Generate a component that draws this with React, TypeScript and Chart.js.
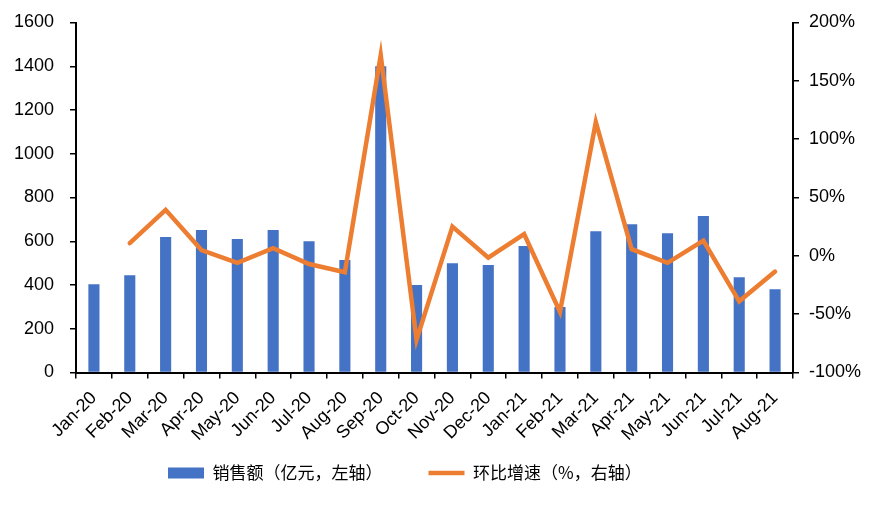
import { useEffect, useRef } from 'react'
import { Chart, registerables } from 'chart.js'

Chart.register(...registerables)

// months on the x axis
const months = [
  'Jan-20', 'Feb-20', 'Mar-20', 'Apr-20', 'May-20', 'Jun-20', 'Jul-20', 'Aug-20', 'Sep-20', 'Oct-20',
  'Nov-20', 'Dec-20', 'Jan-21', 'Feb-21', 'Mar-21', 'Apr-21', 'May-21', 'Jun-21', 'Jul-21', 'Aug-21',
]
// 销售额（亿元）
const sales = [404, 445, 619, 651, 610, 651, 600, 514, 1400, 400, 500, 491, 578, 299, 646, 678, 637, 715, 436, 381]
// 环比增速（%）
const momGrowth = [null, 10.9, 39.4, 5, -6, 6.6, -7, -14, 172, -72, 25, -1.5, 18.6, -48, 114.6, 5.7, -6, 13, -39, -13.5]

const tickFont = { size: 18, family: '"Liberation Sans", Arial, sans-serif' }
const axisColor = '#000000'

// legend padding is used both around and between items; place the box by hand
const legendPlace = {
  id: 'legendPlace',
  afterLayout(chart: any) {
    const l = chart.legend
    if (!l) return
    const pad = l.options.labels.padding
    const h = l.bottom - l.top
    const w = l.right - l.left
    l.left = 168 - pad
    l.right = l.left + w
    l.top = 473 - pad - 8.5
    l.bottom = l.top + h
  },
}

export default function App() {
  const canvasRef = useRef<HTMLCanvasElement>(null)
  const chartRef = useRef<Chart | null>(null)

  useEffect(() => {
    document.body.style.margin = '0'
    if (!canvasRef.current) return
    if (chartRef.current) chartRef.current.destroy()

    chartRef.current = new Chart(canvasRef.current, {
      type: 'bar',
      data: {
        labels: months,
        datasets: [
          {
            type: 'bar',
            label: '销售额（亿元，左轴）',
            data: sales,
            backgroundColor: '#4472C4',
            borderWidth: 0,
            yAxisID: 'y',
            categoryPercentage: 1,
            barPercentage: 0.31,
            pointStyle: 'rect',
            order: 2,
          },
          {
            type: 'line',
            label: '环比增速（%，右轴）',
            data: momGrowth,
            borderColor: '#ED7D31',
            backgroundColor: '#ED7D31',
            borderWidth: 4.5,
            borderJoinStyle: 'miter',
            borderCapStyle: 'round',
            pointRadius: 0,
            tension: 0,
            yAxisID: 'y1',
            pointStyle: 'line',
            order: 1,
          },
        ],
      },
      plugins: [legendPlace],
      options: {
        animation: false,
        responsive: true,
        maintainAspectRatio: false,
        layout: { padding: { top: 22.5, bottom: -20, left: 0, right: 0 } },
        plugins: {
          tooltip: { enabled: false },
          legend: {
            position: 'bottom',
            align: 'start',
            labels: {
              usePointStyle: true,
              pointStyleWidth: 36,
              boxHeight: 11,
              padding: 46,
              color: '#000',
              font: { size: 17, family: '"Noto Sans CJK SC", sans-serif' },
              sort: (a: any, b: any) => a.datasetIndex - b.datasetIndex,
            },
          },
        },
        scales: {
          x: {
            offset: true,
            grid: { offset: true, drawOnChartArea: false, color: axisColor, tickLength: 6, lineWidth: 1.5 },
            border: { color: axisColor, width: 2 },
            ticks: { color: '#000', font: tickFont, minRotation: 45, maxRotation: 45, padding: 9 },
            afterFit: (s: any) => { s.height = 79.5 },
          },
          y: {
            position: 'left',
            min: 0,
            max: 1600,
            grid: { drawOnChartArea: false, color: axisColor, tickLength: 6, lineWidth: 1.5 },
            border: { color: axisColor, width: 2 },
            ticks: { stepSize: 200, color: '#000', font: tickFont, padding: 16, callback: (v: any) => String(v) },
            afterFit: (s: any) => { s.width = 76; s.paddingTop = 11; s.paddingBottom = 11 },
          },
          y1: {
            position: 'right',
            min: -100,
            max: 200,
            grid: { drawOnChartArea: false, color: axisColor, tickLength: 6, lineWidth: 1.5 },
            border: { color: axisColor, width: 2 },
            ticks: { stepSize: 50, color: '#000', font: tickFont, padding: 10, callback: (v: any) => v + '%' },
            afterFit: (s: any) => { s.width = 87; s.paddingTop = 11; s.paddingBottom = 11 },
          },
        },
      },
    })
    return () => { chartRef.current?.destroy() }
  }, [])

  return (
    <div style={{ width: 880, height: 505, background: '#fff' }}>
      <canvas ref={canvasRef} />
    </div>
  )
}
